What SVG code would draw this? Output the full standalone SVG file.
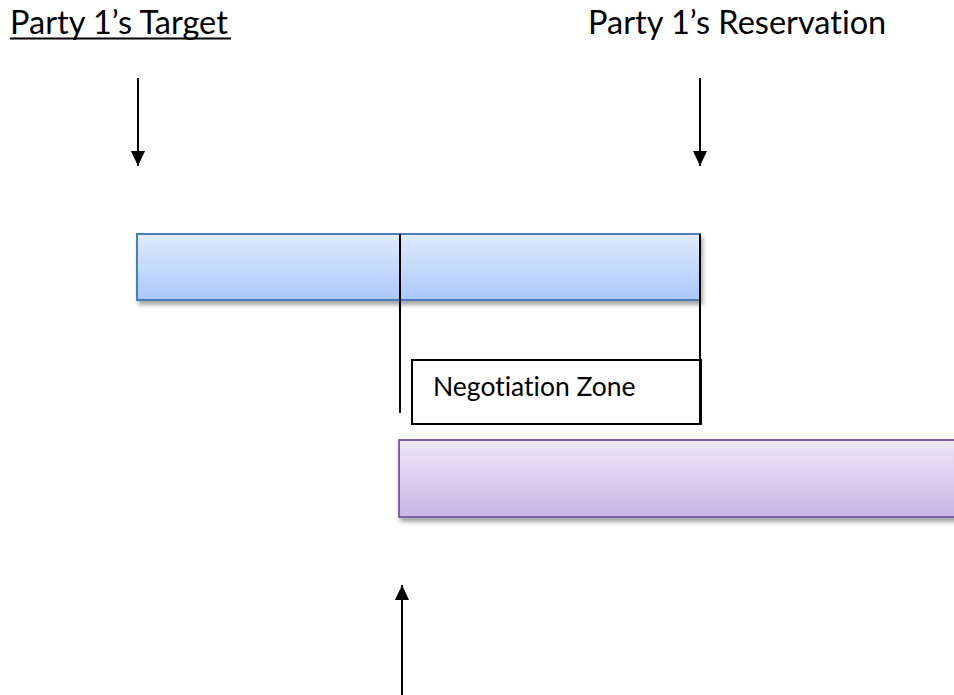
<svg xmlns="http://www.w3.org/2000/svg" width="954" height="695" viewBox="0 0 954 695">
<defs>
<linearGradient id="gBlue" x1="0" y1="0" x2="0" y2="1"><stop offset="0" stop-color="#e2ebfd"/><stop offset="1" stop-color="#a9c8fb"/></linearGradient>
<linearGradient id="gPurple" x1="0" y1="0" x2="0" y2="1"><stop offset="0" stop-color="#eee9f8"/><stop offset="1" stop-color="#c9b5e6"/></linearGradient>
<filter id="sh" x="-5%" y="-20%" width="115%" height="160%"><feGaussianBlur in="SourceAlpha" stdDeviation="2"/><feOffset dx="2" dy="4"/><feComponentTransfer><feFuncA type="linear" slope="0.35"/></feComponentTransfer><feMerge><feMergeNode/><feMergeNode in="SourceGraphic"/></feMerge></filter>
<marker id="ah" viewBox="0 0 15 14" refX="15" refY="7" markerWidth="15" markerHeight="14" markerUnits="userSpaceOnUse" orient="auto"><path d="M0,0 L15,7 L0,14 z" fill="#000"/></marker>
</defs>
<style>
text{font-family:Lato,"Open Sans","Liberation Sans",sans-serif;fill:#000;font-variant-ligatures:none;font-feature-settings:"liga" 0}
.lbl{font-size:32.5px}
.ln{stroke:#000;stroke-width:2;fill:none}
.arr{stroke:#000;stroke-width:2;fill:none;marker-end:url(#ah)}
</style>
<g id="label-target"><text class="lbl" x="10" y="34">Party 1’s Target</text><line x1="10" y1="38.5" x2="231" y2="38.5" stroke="#000" stroke-width="2"/></g>
<g id="label-reservation"><text class="lbl" x="588" y="34">Party 1’s Reservation</text></g>
<g id="bar-party1"><rect x="137" y="234" width="563" height="66" fill="url(#gBlue)" stroke="#4a7ebb" stroke-width="2" filter="url(#sh)"/></g>
<g id="bar-party2"><rect x="399" y="440" width="560" height="77" fill="url(#gPurple)" stroke="#8064a2" stroke-width="2" filter="url(#sh)"/></g>
<g id="zone"><rect x="412" y="360" width="289" height="64" fill="#fff" stroke="#000" stroke-width="2"/><text x="433" y="396" font-size="26.5">Negotiation Zone</text></g>
<g id="connectors">
<line class="ln" x1="400" y1="234" x2="400" y2="413"/>
<line class="ln" x1="700" y1="234" x2="700" y2="424"/>
<line class="arr" x1="138" y1="78" x2="138" y2="166"/>
<line class="arr" x1="700" y1="78" x2="700" y2="166"/>
<line class="arr" x1="402" y1="695" x2="402" y2="585"/>
</g>
</svg>
